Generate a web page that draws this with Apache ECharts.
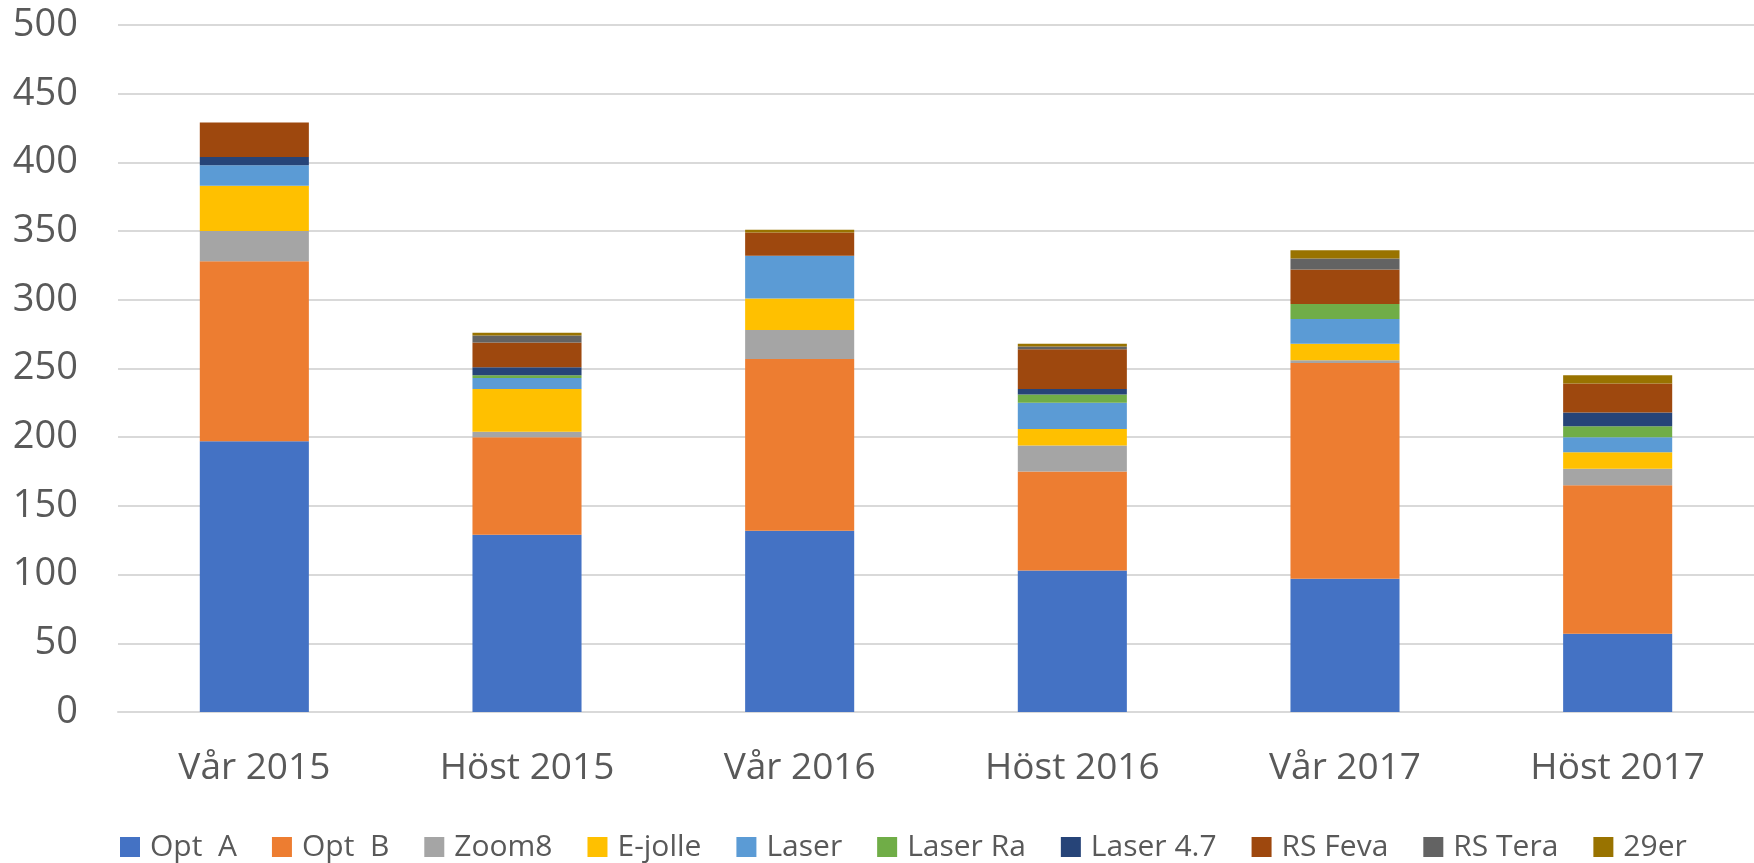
<!DOCTYPE html>
<html>
<head>
<meta charset="utf-8">
<script src="https://cdn.jsdelivr.net/npm/echarts@6/dist/echarts.min.js"></script>
<style>
  html, body { margin: 0; padding: 0; background: #fff; }
  #chart { width: 1754px; height: 863px; }
</style>
</head>
<body>
<div id="chart"></div>
<script>
var categories = ['Vår 2015', 'Höst 2015', 'Vår 2016', 'Höst 2016', 'Vår 2017', 'Höst 2017'];

var optA     = [197, 129, 132, 103,  97,  57];
var optB     = [131,  71, 125,  72, 157, 108];
var zoom8    = [ 22,   4,  21,  19,   2,  12];
var ejolle   = [ 33,  31,  23,  12,  12,  12];
var laser    = [ 15,   8,  31,  19,  18,  11];
var laserRa  = [  0,   2,   0,   6,  11,   8];
var laser47  = [  6,   6,   0,   4,   0,  10];
var rsFeva   = [ 25,  18,  17,  29,  25,  21];
var rsTera   = [  0,   5,   0,   2,   8,   0];
var er29     = [  0,   2,   2,   2,   6,   6];

var seriesNames = ['Opt  A', 'Opt  B', 'Zoom8', 'E-jolle', 'Laser', 'Laser Ra', 'Laser 4.7', 'RS Feva', 'RS Tera', '29er'];
var seriesData = [optA, optB, zoom8, ejolle, laser, laserRa, laser47, rsFeva, rsTera, er29];
var colors = ['#4472c4', '#ed7d31', '#a5a5a5', '#ffc000', '#5b9bd5', '#70ad47', '#264478', '#9e480e', '#636363', '#997300'];

var font = 'Open Sans';
var textColor = '#595959';

var myChart = echarts.init(document.getElementById('chart'));

var series = seriesNames.map(function (name, i) {
    return {
        name: name,
        type: 'bar',
        stack: 'total',
        barWidth: '40%',
        data: seriesData[i]
    };
});

var option = {
    animation: false,
    color: colors,
    grid: {
        left: 118,
        right: 0,
        top: 25,
        bottom: 151
    },
    legend: {
        top: 827,
        left: 115,
        itemWidth: 20,
        itemHeight: 20,
        itemGap: 35,
        icon: 'rect',
        textStyle: {
            fontFamily: font,
            fontSize: 30,
            color: textColor,
            padding: [0, 0, 0, 5]
        }
    },
    xAxis: {
        type: 'category',
        data: categories,
        axisLine: { lineStyle: { color: '#d9d9d9', width: 2 } },
        axisTick: { show: false },
        axisLabel: {
            margin: 38,
            fontFamily: font,
            fontSize: 37,
            color: textColor
        }
    },
    yAxis: {
        type: 'value',
        min: 0,
        max: 500,
        interval: 50,
        axisLine: { show: false },
        axisTick: { show: false },
        splitLine: { lineStyle: { color: '#d9d9d9', width: 2 } },
        axisLabel: {
            margin: 40,
            fontFamily: font,
            fontSize: 38,
            color: textColor
        }
    },
    series: series
};
myChart.setOption(option);
</script>
</body>
</html>
